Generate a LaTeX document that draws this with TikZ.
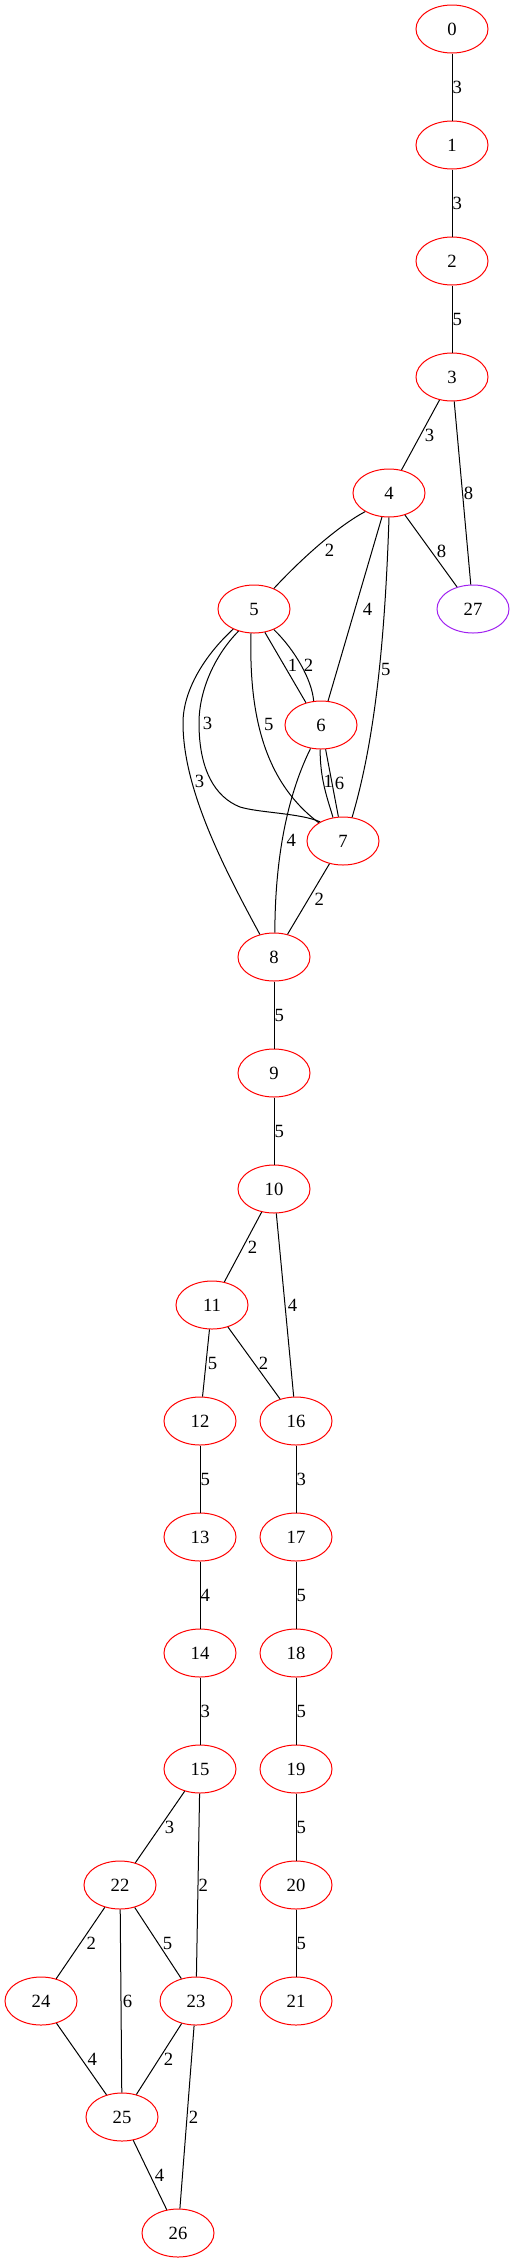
\documentclass[tikz,border=0pt]{standalone}
\usepackage{fontspec}
\setmainfont{Liberation Serif}
\usetikzlibrary{shapes.geometric}
\definecolor{gvpurple}{HTML}{A020F0}

\begin{document}
\begin{tikzpicture}[x=0.75pt, y=-0.75pt, line width=0.75pt,
	every node/.style={font=\fontsize{14}{16}\selectfont},
	vertex/.style={ellipse, draw=red, minimum width=54pt, minimum height=36pt, inner sep=0pt},
	lbl/.style={anchor=west, inner sep=0pt}]
	\useasboundingbox (0,0) rectangle (515,2263);

	% Nodes
	\node[vertex] (v0) at (452,29) {0};
	\node[vertex] (v1) at (452,145) {1};
	\node[vertex] (v2) at (452,261) {2};
	\node[vertex] (v3) at (452,377) {3};
	\node[vertex] (v4) at (389,493) {4};
	\node[vertex] (v5) at (254,609) {5};
	\node[vertex, draw=gvpurple] (v27) at (473,609) {27};
	\node[vertex] (v6) at (321,725) {6};
	\node[vertex] (v7) at (343,841) {7};
	\node[vertex] (v8) at (274,957) {8};
	\node[vertex] (v9) at (274,1073) {9};
	\node[vertex] (v10) at (274,1189) {10};
	\node[vertex] (v11) at (212,1305) {11};
	\node[vertex] (v12) at (200,1421) {12};
	\node[vertex] (v16) at (296,1421) {16};
	\node[vertex] (v13) at (200,1537) {13};
	\node[vertex] (v17) at (296,1537) {17};
	\node[vertex] (v14) at (200,1653) {14};
	\node[vertex] (v18) at (296,1653) {18};
	\node[vertex] (v15) at (200,1769) {15};
	\node[vertex] (v19) at (296,1769) {19};
	\node[vertex] (v22) at (120,1885) {22};
	\node[vertex] (v20) at (296,1885) {20};
	\node[vertex] (v24) at (41,2001) {24};
	\node[vertex] (v23) at (196,2001) {23};
	\node[vertex] (v21) at (296,2001) {21};
	\node[vertex] (v25) at (122,2117) {25};
	\node[vertex] (v26) at (178,2233) {26};

	% Links
	\draw (v0) -- node[lbl] {3} (v1);
	\draw (v1) -- node[lbl] {3} (v2);
	\draw (v2) -- node[lbl] {5} (v3);
	\draw (v3) -- node[lbl, xshift=2.9pt] {3} (v4);
	\draw (v3) -- node[lbl, xshift=0.6pt] {8} (v27);
	\draw (v4.218) .. controls (340,525) and (305,555) .. (v5.46) node[lbl, pos=.5, xshift=1.9pt, yshift=-5.6pt] {2};
	\draw (v4) -- node[lbl, xshift=5.5pt] {4} (v6);
	\draw (v4.south) .. controls (385,640) and (375,740) .. (v7.69) node[lbl, pos=.45, xshift=1pt] {5};
	\draw (v4) -- node[lbl, xshift=4pt] {8} (v27);
	\draw (v5.295) -- node[lbl, xshift=1.5pt, yshift=1.5pt] {1} (v6.124);
	\draw (v5.314) .. controls (295,650) and (312,680) .. (v6.107) node[lbl, pos=.5, xshift=1.7pt] {2};
	\draw (v5.263) .. controls (249,710) and (262,780) .. (v7.143) node[lbl, pos=.43, xshift=3.4pt, yshift=1.8pt] {5};
	\draw (v5.235) .. controls (215,655) and (199,690) .. (199,723) node[lbl, xshift=2.5pt] {3}
		.. controls (199,770) and (215,797) .. (240,807) .. controls (260,813) and (300,813) .. (v7.140);
	\draw (v5.224) .. controls (205,655) and (183,690) .. (183,723)
		.. controls (183,790) and (225,870) .. (v8.122) node[lbl, pos=.28, xshift=2pt] {3};
	\draw (v6.268) .. controls (320,780) and (328,800) .. (v7.113) node[lbl, pos=.4] {1};
	\draw (v6) -- node[lbl, xshift=1.7pt] {6} (v7);
	\draw (v6.246) .. controls (290,790) and (275,850) .. (v8.88) node[lbl, pos=.58, xshift=3pt] {4};
	\draw (v7) -- node[lbl, xshift=4.3pt] {2} (v8);
	\draw (v8) -- node[lbl] {5} (v9);
	\draw (v9) -- node[lbl] {5} (v10);
	\draw (v10) -- node[lbl, xshift=3.2pt] {2} (v11);
	\draw (v10) -- node[lbl, xshift=1.7pt] {4} (v16);
	\draw (v11) -- node[lbl, xshift=1pt] {5} (v12);
	\draw (v11) -- node[lbl, xshift=3.2pt] {2} (v16);
	\draw (v12) -- node[lbl] {5} (v13);
	\draw (v13) -- node[lbl] {4} (v14);
	\draw (v14) -- node[lbl] {3} (v15);
	\draw (v16) -- node[lbl] {3} (v17);
	\draw (v17) -- node[lbl] {5} (v18);
	\draw (v18) -- node[lbl] {5} (v19);
	\draw (v19) -- node[lbl] {5} (v20);
	\draw (v20) -- node[lbl] {5} (v21);
	\draw (v15) -- node[lbl, xshift=3.2pt] {3} (v22);
	\draw (v15) -- node[lbl] {2} (v23);
	\draw (v22) -- node[lbl, xshift=4.3pt] {2} (v24);
	\draw (v22) -- node[lbl, xshift=1pt] {6} (v25);
	\draw (v22) -- node[lbl, xshift=3.2pt] {5} (v23);
	\draw (v24) -- node[lbl, xshift=4.3pt] {4} (v25);
	\draw (v23) -- node[lbl, xshift=3.2pt] {2} (v25);
	\draw (v23) -- node[lbl, xshift=1pt] {2} (v26);
	\draw (v25) -- node[lbl, xshift=3.2pt] {4} (v26);
\end{tikzpicture}
\end{document}
